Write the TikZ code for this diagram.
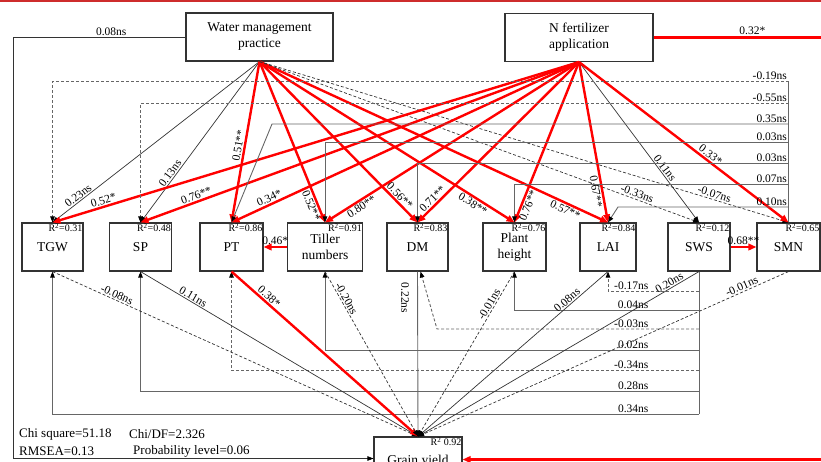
\documentclass[tikz,border=0pt]{standalone}
\usepackage{fontspec}
\setmainfont{Liberation Serif}
\usetikzlibrary{arrows.meta,calc}
\definecolor{pathred}{RGB}{255,0,0}
\definecolor{bandred}{RGB}{206,44,44}
\begin{document}
\begin{tikzpicture}[x=1pt,y=-1pt,
  box/.style={draw=black!80,line width=1.1pt,inner sep=0pt,align=center,
    minimum height=48pt,font=\fontsize{13.5}{16}\selectfont},
  rsq/.style={anchor=north east,inner sep=1pt,font=\fontsize{10}{11}\selectfont},
  lab/.style={inner sep=1.2pt,font=\fontsize{11.5}{12}\selectfont},
  stat/.style={anchor=west,inner sep=0pt,font=\fontsize{13}{14}\selectfont},
  thinln/.style={draw=black!80,line width=0.7pt,-{Triangle[length=6pt,width=4.5pt,color=black]}},
  redln/.style={draw=pathred,line width=2.4pt,-{Triangle[length=8pt,width=6.5pt]}},
  fbln/.style={draw=black!60,line width=0.9pt},
  fbarrow/.style={fbln,-{Triangle[length=6pt,width=4.5pt,color=black]}},
  dashln/.style={dash pattern=on 3pt off 2pt},
]
\useasboundingbox (0,0) rectangle (821,461);
\clip (0,0) rectangle (821,461);
\fill[bandred] (0,0) rectangle (821,1.8);

% exogenous factors
\node[box,minimum width=147pt] (water) at (259.5,37) {Water management\\practice};
\node[box,minimum width=148pt] (nfert) at (579,37.5) {N fertilizer\\application};

% measured traits
\node[box,minimum width=61pt] (tgw) at (52.5,247) {TGW};
\node[box,minimum width=62pt] (sp) at (140.5,247) {SP};
\node[box,minimum width=63pt] (pt) at (231.5,247) {PT};
\node[box,minimum width=75pt] (tiller) at (325,247) {Tiller\\numbers};
\node[box,minimum width=61pt] (dm) at (417.5,247) {DM};
\node[box,minimum width=63pt] (ph) at (514.5,247) {Plant\\height};
\node[box,minimum width=56pt] (lai) at (608,247) {LAI};
\node[box,minimum width=62pt] (sws) at (699,247) {SWS};
\node[box,minimum width=63pt] (smn) at (788.5,247) {SMN};
\node[box,minimum width=88pt] (gy) at (418,461) {Grain yield};

\node[rsq] (rtgw) at (tgw.north east) {R\textsuperscript{2}=0.31};
\node[rsq] (rsp) at (sp.north east) {R\textsuperscript{2}=0.48};
\node[rsq] (rpt) at (pt.north east) {R\textsuperscript{2}=0.86};
\node[rsq] (rtil) at (tiller.north east) {R\textsuperscript{2}=0.91};
\node[rsq] (rdm) at (dm.north east) {R\textsuperscript{2}=0.83};
\node[rsq] (rph) at (ph.north east) {R\textsuperscript{2}=0.76};
\node[rsq] (rlai) at (lai.north east) {R\textsuperscript{2}=0.84};
\node[rsq] (rsws) at (sws.north east) {R\textsuperscript{2}=0.12};
\node[rsq] (rsmn) at (smn.north east) {R\textsuperscript{2}=0.65};
\node[rsq] (rgy) at (gy.north east) {R\textsuperscript{2} 0.92};

% fit statistics
\node[stat] (chi) at (19,434) {Chi square=51.18};
\node[stat] (chidf) at (129,434) {Chi/DF=2.326};
\node[stat] (rmsea) at (19,451) {RMSEA=0.13};
\node[stat] (prob) at (133,451) {Probability level=0.06};

% helper points
\coordinate (lcorner) at (13,37);
\coordinate (rcorner) at (840,37.5);
\coordinate (gyinL) at ([yshift=2.5pt]gy.west);
\coordinate (gyinR) at ([yshift=1.5pt]gy.east);

% direct paths of the two factors to grain yield
\draw[thinln] (water.west) -- node[lab,above,pos=0.43]{0.08ns} (lcorner) |- (gyinL);
\draw[redln] (nfert.east) -- node[lab,above,pos=0.53]{0.32*} (rcorner) |- (gyinR);

% water management to traits
\draw[thinln] (water.south) -- node[lab,sloped,above,pos=0.86]{0.23ns} (tgw.north);
\draw[thinln] (water.south) -- node[lab,sloped,above,pos=0.715]{0.13ns} (sp.north);
\draw[redln] (water.south) -- node[lab,sloped,above,pos=0.53]{0.51**} (pt.north);
\draw[redln] (water.south) -- node[lab,sloped,below,pos=0.88]{0.52**} (tiller.north);
\draw[redln] (water.south) -- node[lab,sloped,above,pos=0.86]{0.56**} (dm.north);
\draw[redln] (water.south) -- node[lab,sloped,below,pos=0.85]{0.38**} (ph.north);
\draw[redln] (water.south) -- node[lab,sloped,below,pos=0.885]{0.57**} (lai.north);
\draw[thinln,dashln] (water.south) -- node[lab,sloped,above,pos=0.855]{-0.33ns} (sws.north);
\draw[thinln,dashln] (water.south) -- node[lab,sloped,above,pos=0.857]{-0.07ns} (smn.north);

% N fertilizer to traits
\draw[redln] (nfert.south) -- node[lab,sloped,above,pos=0.90]{0.52*} (tgw.north);
\draw[redln] (nfert.south) -- node[lab,sloped,above,pos=0.868]{0.76**} (sp.north);
\draw[redln] (nfert.south) -- node[lab,sloped,above,pos=0.884]{0.34*} (pt.north);
\draw[redln] (nfert.south) -- node[lab,sloped,below,pos=0.87]{0.80**} (tiller.north);
\draw[redln] (nfert.south) -- node[lab,sloped,above,pos=0.88]{0.71**} (dm.north);
\draw[redln] (nfert.south) -- node[lab,sloped,below,pos=0.88]{0.76**} (ph.north);
\draw[redln] (nfert.south) -- node[lab,sloped,below,pos=0.80]{0.67**} (lai.north);
\draw[thinln] (nfert.south) -- node[lab,sloped,above,pos=0.68]{0.11ns} (sws.north);
\draw[redln] (nfert.south) -- node[lab,sloped,above,pos=0.61]{0.33*} (smn.north);

% trait to trait
\draw[redln] (tiller.west) -- node[lab,above]{0.46*} (pt.east);
\draw[redln] (sws.east) -- node[lab,above]{0.68**} (smn.west);

% SMN paths (upper bus)
\coordinate (sm1) at (788.5,81);
\coordinate (sm2) at (788.5,103);
\coordinate (sm3) at (788.5,124);
\coordinate (sm4) at (788.5,142);
\coordinate (sm5) at (788.5,163);
\coordinate (sm6) at (788.5,184);
\coordinate (sm7) at (788.5,207);
\coordinate (ptbend) at (272,124);
\coordinate (laibend) at (618,207);
\draw[fbln] (smn.north) -- (sm1);
\draw[fbarrow,dashln] (sm1) -- node[lab,pos=0,anchor=south east]{-0.19ns} (tgw.north |- sm1) -- (tgw.north);
\draw[fbarrow,dashln] (sm2) -- node[lab,pos=0,anchor=south east]{-0.55ns} (sp.north |- sm2) -- (sp.north);
\draw[fbarrow] (sm3) -- node[lab,pos=0,anchor=south east]{0.35ns} (ptbend) -- (pt.north);
\draw[fbarrow] (sm4) -- node[lab,pos=0,anchor=south east]{0.03ns} (tiller.north |- sm4) -- (tiller.north);
\draw[fbarrow] (sm5) -- node[lab,pos=0,anchor=south east]{0.03ns} (dm.north |- sm5) -- (dm.north);
\draw[fbarrow] (sm6) -- node[lab,pos=0,anchor=south east]{0.07ns} (ph.north |- sm6) -- (ph.north);
\draw[fbarrow] (sm7) -- node[lab,pos=0,anchor=south east]{0.10ns} (laibend) -- (lai.north);

% SWS paths (lower bus)
\coordinate (sw1) at (699,291);
\coordinate (sw2) at (699,310);
\coordinate (sw3) at (699,329);
\coordinate (sw4) at (699,350);
\coordinate (sw5) at (699,370);
\coordinate (sw6) at (699,391);
\coordinate (sw7) at (699,414);
\coordinate (dmbend) at (437,329);
\draw[fbln] (sws.south) -- (sw7);
\draw[fbarrow,dashln] (sw1) -- node[lab,pos=0.538,anchor=south east]{-0.17ns} (lai.south |- sw1) -- (lai.south);
\draw[fbarrow] (sw2) -- node[lab,pos=0.266,anchor=south east]{0.04ns} (ph.south |- sw2) -- (ph.south);
\draw[fbarrow,dashln] (sw3) -- node[lab,pos=0.187,anchor=south east]{-0.03ns} (dmbend) -- ([xshift=3pt]dm.south);
\draw[fbarrow] (sw4) -- node[lab,pos=0.131,anchor=south east]{0.02ns} (tiller.south |- sw4) -- (tiller.south);
\draw[fbarrow,dashln] (sw5) -- node[lab,pos=0.105,anchor=south east]{-0.34ns} (pt.south |- sw5) -- (pt.south);
\draw[fbarrow] (sw6) -- node[lab,pos=0.0877,anchor=south east]{0.28ns} (sp.south |- sw6) -- (sp.south);
\draw[fbarrow] (sw7) -- node[lab,pos=0.0758,anchor=south east]{0.34ns} (tgw.south |- sw7) -- (tgw.south);

% traits to grain yield
\draw[thinln,dashln] (tgw.south) -- node[lab,sloped,above,pos=0.17]{-0.08ns} (gy.north);
\draw[thinln] (sp.south) -- node[lab,sloped,above,pos=0.18]{0.11ns} (gy.north);
\draw[redln] (pt.south) -- node[lab,sloped,above,pos=0.18]{0.38*} (gy.north);
\draw[thinln,dashln] (tiller.south) -- node[lab,sloped,above,pos=0.18]{-0.20ns} (gy.north);
\draw[fbarrow] (dm.south) -- (gy.north);
\node[lab,rotate=-90] (l022) at (405,298) {0.22ns};
\draw[thinln,dashln] (ph.south) -- node[lab,sloped,above,pos=0.215]{-0.01ns} (gy.north);
\draw[thinln] (lai.south) -- node[lab,sloped,above,pos=0.197]{0.08ns} (gy.north);
\draw[thinln] (sws.south) -- node[lab,sloped,above,pos=0.096]{0.20ns} (gy.north);
\draw[thinln,dashln] (smn.south) -- node[lab,sloped,above,pos=0.12]{-0.01ns} (gy.north);
\end{tikzpicture}
\end{document}
